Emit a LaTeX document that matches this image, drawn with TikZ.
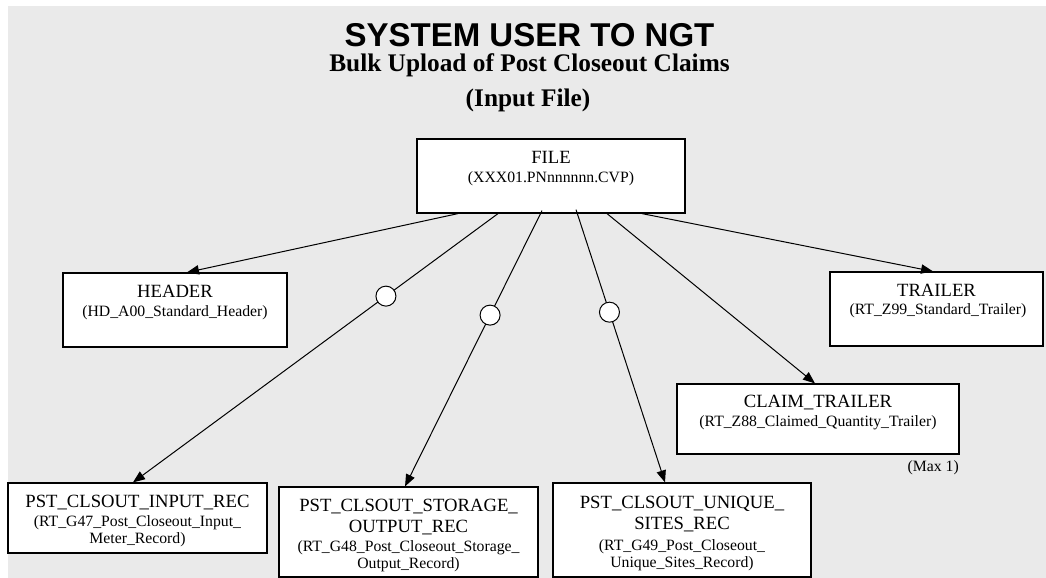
\documentclass[tikz,border=0pt]{standalone}
\usepackage{fontspec}
\setmainfont{Liberation Serif}
\newfontfamily\ngtsans{Liberation Sans}
\definecolor{ngtBack}{HTML}{EAEAEA}
\usepackage{tikz}
\usetikzlibrary{arrows.meta}

\tikzset{
  recbox/.style={draw=black, line width=0.9pt, fill=white, inner sep=0pt},
  recname/.style={font=\fontsize{14}{15.5}\selectfont, align=center, inner sep=0pt},
  recsub/.style={font=\fontsize{11.8}{12.4}\selectfont, align=center, inner sep=0pt},
  feed/.style={line width=0.75pt, -{Triangle[length=9pt,width=7pt]}},
  optional/.style={circle, draw=black, fill=white, line width=0.75pt, minimum size=15pt, inner sep=0pt},
}

\begin{document}
\begin{tikzpicture}[x=0.75pt, y=-0.75pt]
  \useasboundingbox (0,0) rectangle (1046,578);
  \fill[white] (0,0) rectangle (1046,578);
  \fill[ngtBack] (8,6) rectangle (1046,578);

  % headings
  \node[font=\ngtsans\bfseries\fontsize{24.75}{28}\selectfont] (title) at (529.5,35) {SYSTEM USER TO NGT};
  \node[font=\bfseries\fontsize{19}{22}\selectfont] (subtitle) at (529.5,65) {Bulk Upload of Post Closeout Claims};
  \node[font=\bfseries\fontsize{19}{22}\selectfont] (subtitleb) at (528,100) {(Input File)};

  % record boxes
  \node[recbox, minimum width=201pt, minimum height=55.5pt] (file) at (551,176) {};
  \node[recbox, minimum width=168pt, minimum height=55.5pt] (header) at (175,310) {};
  \node[recbox, minimum width=159.75pt, minimum height=55.5pt] (trailer) at (936.5,309) {};
  \node[recbox, minimum width=211.5pt, minimum height=52.5pt] (claim) at (818,419) {};
  \node[recbox, minimum width=194.25pt, minimum height=52.5pt] (input) at (137.5,518) {};
  \node[recbox, minimum width=194.25pt, minimum height=67.5pt] (storage) at (408.5,532) {};
  \node[recbox, minimum width=193.5pt, minimum height=70.5pt] (unique) at (682,530) {};

  % box texts
  \node[recname] (filename) at (551,157) {FILE};
  \node[recsub] (filerec) at (551,179) {(XXX01.PNnnnnnn.CVP)};
  \node[recname] (headername) at (175,291) {HEADER};
  \node[recsub] (headerrec) at (175,313) {(HD\_A00\_Standard\_Header)};
  \node[recname] (trailername) at (936.5,290) {TRAILER};
  \node[recsub] (trailerrec) at (938,311) {(RT\_Z99\_Standard\_Trailer)};
  \node[recname] (claimname) at (818,403) {CLAIM\_TRAILER};
  \node[recsub] (claimrec) at (818,423) {(RT\_Z88\_Claimed\_Quantity\_Trailer)};
  \node[recsub, anchor=north east] (claimmax) at (959,460) {(Max 1)};
  \node[recname] (inputname) at (137.5,503) {PST\_CLSOUT\_INPUT\_REC};
  \node[recsub] (inputrec) at (137.5,531) {(RT\_G47\_Post\_Closeout\_Input\_\\Meter\_Record)};
  \node[recname] (storagename) at (408.5,517) {PST\_CLSOUT\_STORAGE\_\\OUTPUT\_REC};
  \node[recsub] (storagerec) at (408.5,556) {(RT\_G48\_Post\_Closeout\_Storage\_\\Output\_Record)};
  \node[recname] (uniquename) at (682,514) {PST\_CLSOUT\_UNIQUE\_\\SITES\_REC};
  \node[recsub] (uniquerec) at (682,555) {(RT\_G49\_Post\_Closeout\_\\Unique\_Sites\_Record)};

  % connectors, optional records get a circle
  \draw[feed] ([xshift=-69.75pt]file.south) -- ([xshift=9pt]header.north);
  \draw[feed] ([xshift=-39.75pt]file.south) -- node[optional, pos=0.307] (optinput) {} ([xshift=-3.4pt]input.north);
  \draw[feed] ([xshift=-6.75pt, yshift=2.25pt]file.south) -- node[optional, pos=0.379] (optstorage) {} ([xshift=-2.6pt]storage.north);
  \draw[feed] ([xshift=18.75pt, yshift=3pt]file.south) -- node[optional, pos=0.376] (optunique) {} ([xshift=-12.75pt]unique.north);
  \draw[feed] ([xshift=42pt]file.south) -- ([xshift=-2.25pt]claim.north);
  \draw[feed] ([xshift=68.25pt]file.south) -- ([xshift=-2.6pt]trailer.north);
\end{tikzpicture}
\end{document}
